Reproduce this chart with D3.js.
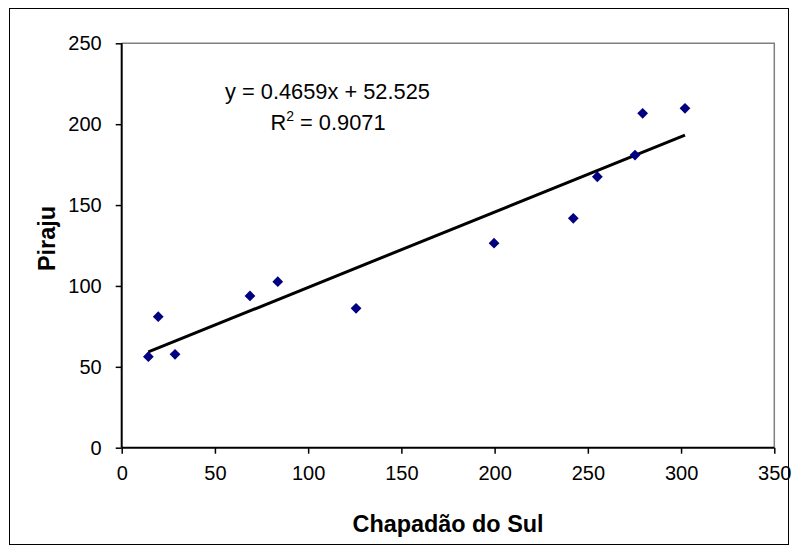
<!DOCTYPE html>
<html><head><meta charset="utf-8">
<script src="https://cdn.jsdelivr.net/npm/d3@7"></script>
<style>body{margin:0;background:#fff}svg{display:block}</style>
</head><body>
<svg id="c" width="798" height="552"></svg>
<script>
const xValues = [14.3, 19.6, 28.6, 68.8, 83.7, 125.7, 199.7, 242.2, 255.1, 275.3, 279.4, 302.1];
const yValues = [56.3, 81.0, 57.7, 93.8, 102.6, 86.2, 126.4, 141.8, 167.5, 180.9, 206.7, 209.8];
const xTicks = [0, 50, 100, 150, 200, 250, 300, 350];
const yTicks = [0, 50, 100, 150, 200, 250];
const slope = 0.4659, intercept = 52.525;
const eqText = "y = 0.4659x + 52.525";
const r2Text = "0.9071";
const xTitle = "Chapadão do Sul";
const yTitle = "Piraju";

const svg = d3.select("#c");
const L = 121.7, R = 774.3, T = 43.3, B = 447.7;
const x = d3.scaleLinear().domain([0, 350]).range([L, R]);
const y = d3.scaleLinear().domain([0, 250]).range([B, T]);
const font = "'Liberation Sans', Arial, sans-serif";

svg.append("rect").attr("x", 9.5).attr("y", 8.5).attr("width", 779).attr("height", 536)
  .attr("fill", "#fff").attr("stroke", "#000").attr("stroke-width", 1);

// plot border (top/right gray)
svg.append("path").attr("d", `M${L},${T}H${R}V${B}`).attr("fill", "none")
  .attr("stroke", "#808080").attr("stroke-width", 1.5);

const xa = svg.append("g").attr("transform", `translate(0,${B})`)
  .call(d3.axisBottom(x).tickValues(xTicks).tickSize(6).tickPadding(12).tickFormat(d3.format("d")));
const ya = svg.append("g").attr("transform", `translate(${L},0)`)
  .call(d3.axisLeft(y).tickValues(yTicks).tickSize(6).tickPadding(14).tickFormat(d3.format("d")));
[xa, ya].forEach(a => {
  a.select(".domain").attr("stroke", "#000").attr("stroke-width", 2);
  a.selectAll(".tick line").attr("stroke", "#000").attr("stroke-width", 1.5);
  a.selectAll(".tick text").attr("font-family", font).attr("font-size", 20).attr("fill", "#000");
});
xa.select(".domain").attr("d", `M${L},0H${R}`);
ya.select(".domain").attr("d", `M0,${B}V${T}`);

// trendline
const x0 = d3.min(xValues), x1 = d3.max(xValues);
svg.append("line")
  .attr("x1", x(x0)).attr("y1", y(slope * x0 + intercept))
  .attr("x2", x(x1)).attr("y2", y(slope * x1 + intercept))
  .attr("stroke", "#000").attr("stroke-width", 3);

// points
const sym = d3.symbol().type(d3.symbolDiamond2).size(74);
svg.append("g").selectAll("path").data(xValues.map((v, i) => [v, yValues[i]])).join("path")
  .attr("transform", d => `translate(${x(d[0])},${y(d[1])})`)
  .attr("d", sym).attr("fill", "#000080");

// equation
svg.append("text").attr("x", 327.5).attr("y", 98.5).attr("text-anchor", "middle")
  .attr("font-family", font).attr("font-size", 21.8).text(eqText);
const r2 = svg.append("text").attr("x", 328).attr("y", 129.5).attr("text-anchor", "middle")
  .attr("font-family", font).attr("font-size", 21.8);
r2.append("tspan").text("R");
r2.append("tspan").attr("dy", -9).attr("font-size", 14).text("2");
r2.append("tspan").attr("dy", 9).text(" = " + r2Text);

// axis titles
svg.append("text").attr("x", 448).attr("y", 532).attr("text-anchor", "middle")
  .attr("font-family", font).attr("font-weight", "bold").attr("font-size", 23.4).text(xTitle);
svg.append("text").attr("transform", `translate(54.5,238.5) rotate(-90)`).attr("text-anchor", "middle")
  .attr("font-family", font).attr("font-weight", "bold").attr("font-size", 23.4).text(yTitle);
</script>
</body></html>
